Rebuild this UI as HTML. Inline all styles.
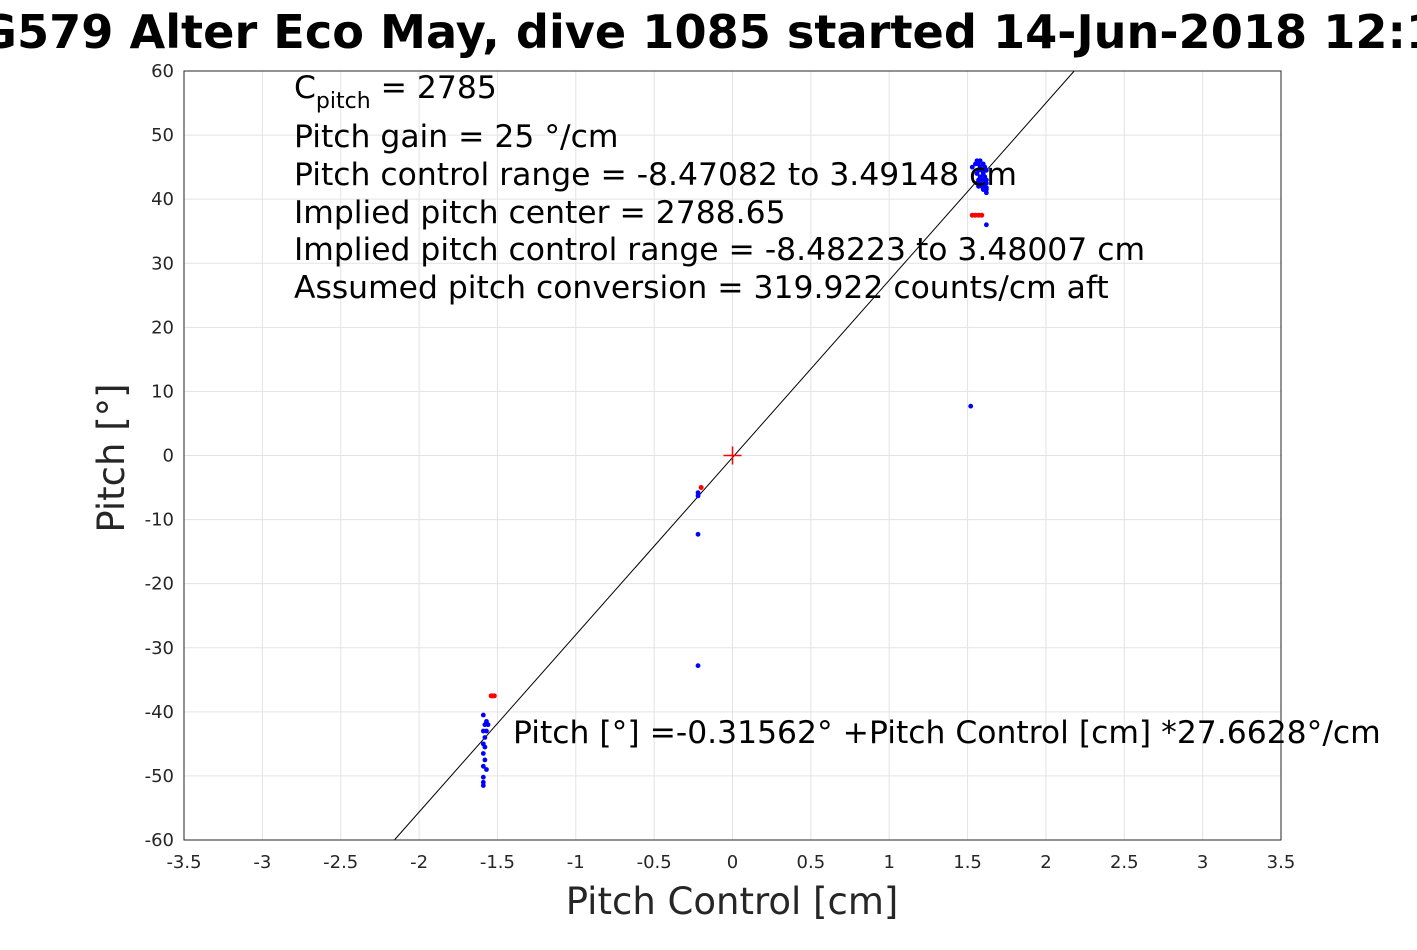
<!DOCTYPE html>
<html><head><meta charset="utf-8"><style>
body{margin:0;background:#fff;width:1417px;height:945px;overflow:hidden}
svg text{font-family:"DejaVu Sans","Liberation Sans",sans-serif}
</style></head><body>
<svg id="chart" width="1417" height="945" xmlns="http://www.w3.org/2000/svg">
<text x="708" y="48" text-anchor="middle" font-size="46.2" font-weight="bold" fill="#000">SG579 Alter Eco May, dive 1085 started 14-Jun-2018 12:10</text>
<rect x="184" y="71" width="1097" height="769" fill="#fff"/>
<g id="grid"></g>
<g id="ticks"></g>
<g id="marks"></g>
<rect x="184" y="71" width="1097" height="769" fill="none" stroke="#262626" stroke-width="1"/>
<text x="732" y="914" text-anchor="middle" font-size="37" fill="#262626">Pitch Control [cm]</text>
<text transform="translate(124,458) rotate(-90)" text-anchor="middle" font-size="37" fill="#262626">Pitch [°]</text>
<g font-size="31.4" fill="#000">
<text x="294" y="98">C<tspan font-size="22" dy="10">pitch</tspan><tspan dy="-10"> = 2785</tspan></text>
<text x="294" y="147">Pitch gain = 25 °/cm</text>
<text x="294" y="185">Pitch control range = -8.47082 to 3.49148 cm</text>
<text x="294" y="223">Implied pitch center = 2788.65</text>
<text x="294" y="260">Implied pitch control range = -8.48223 to 3.48007 cm</text>
<text x="294" y="298">Assumed pitch conversion = 319.922 counts/cm aft</text>
<text x="513" y="743">Pitch [°] =-0.31562° +Pitch Control [cm] *27.6628°/cm</text>
</g>
</svg>
<script>
const xTicks=[-3.5,-3,-2.5,-2,-1.5,-1,-0.5,0,0.5,1,1.5,2,2.5,3,3.5];
const yTicks=[-60,-50,-40,-30,-20,-10,0,10,20,30,40,50,60];
const fitIntercept=-0.31562;
const fitSlope=27.6628;
const blueX=[1.55,1.56,1.57,1.58,1.59,1.6,1.61,1.62,1.56,1.57,1.58,1.59,1.6,1.61,1.62,1.57,1.58,1.6,1.62,1.53,1.62,1.52,-0.22,-0.22,-0.22,-0.22,-1.59,-1.58,-1.57,-1.56,-1.59,-1.58,-1.57,-1.59,-1.58,-1.59,-1.58,-1.59,-1.57,-1.59,-1.59,-1.59,1.56,1.57,1.58,1.6,1.61,1.62,1.62,1.62,1.58,1.6];
const blueY=[45.5,46,45.5,45,44.5,44,43.5,43,44,43,42.5,42,43,42.5,41,44.5,43.5,42,41.5,45,36,7.7,-5.8,-6.3,-12.3,-32.8,-40.5,-42,-41.5,-42,-43,-44,-43,-45,-45.5,-46.5,-47.5,-48.5,-49,-50.2,-51,-51.5,42.5,42,43,45.5,45,44.5,42.5,41.8,46,41.5];
const redX=[1.53,1.55,1.57,1.59,-1.54,-1.53,-1.52,-0.2];
const redY=[37.5,37.5,37.5,37.5,-37.5,-37.5,-37.5,-5];
const NS='http://www.w3.org/2000/svg';
const X0=184,X1=1281,Y0=840,Y1=71;
const sx=v=>X0+(v+3.5)/7*(X1-X0);
const sy=v=>Y0-(v+60)/120*(Y0-Y1);
function mk(t,a,p){const e=document.createElementNS(NS,t);for(const k in a)e.setAttribute(k,a[k]);p.appendChild(e);return e;}
const grid=document.getElementById('grid'),ticks=document.getElementById('ticks'),marks=document.getElementById('marks');
xTicks.forEach(v=>{
 const l=mk('line',{x1:sx(v),x2:sx(v),y1:Y1,y2:Y0,stroke:'#e3e3e3','stroke-width':1},grid);
 
 
 const t=mk('text',{x:sx(v),y:868,'text-anchor':'middle','font-size':18,fill:'#262626'},ticks);
 t.textContent=String(v);
 
 
});
yTicks.forEach(v=>{
 const l=mk('line',{x1:X0,x2:X1,y1:sy(v),y2:sy(v),stroke:'#e3e3e3','stroke-width':1},grid);
 
 
 const t=mk('text',{x:174,y:sy(v)+6,'text-anchor':'end','font-size':18,fill:'#262626'},ticks);
 t.textContent=String(v);
 
 
});
const xa=(-60-fitIntercept)/fitSlope,xb=(60-fitIntercept)/fitSlope;
const fl=mk('line',{x1:sx(xa),y1:sy(-60),x2:sx(xb),y2:sy(60),stroke:'#000','stroke-width':1},marks);


blueX.forEach((v,i)=>{
 const c=mk('circle',{cx:sx(v),cy:sy(blueY[i]),r:2.4,fill:'#0000ff'},marks);
 
 
});
redX.forEach((v,i)=>{
 const c=mk('circle',{cx:sx(v),cy:sy(redY[i]),r:2.5,fill:'#ff0000'},marks);
 
 
});
const cx=sx(0),cy=sy(0);
const p=mk('path',{d:`M${cx-9},${cy}H${cx+9}M${cx},${cy-9}V${cy+9}`,stroke:'#ff0000','stroke-width':1.5},marks);


</script>
</body></html>
